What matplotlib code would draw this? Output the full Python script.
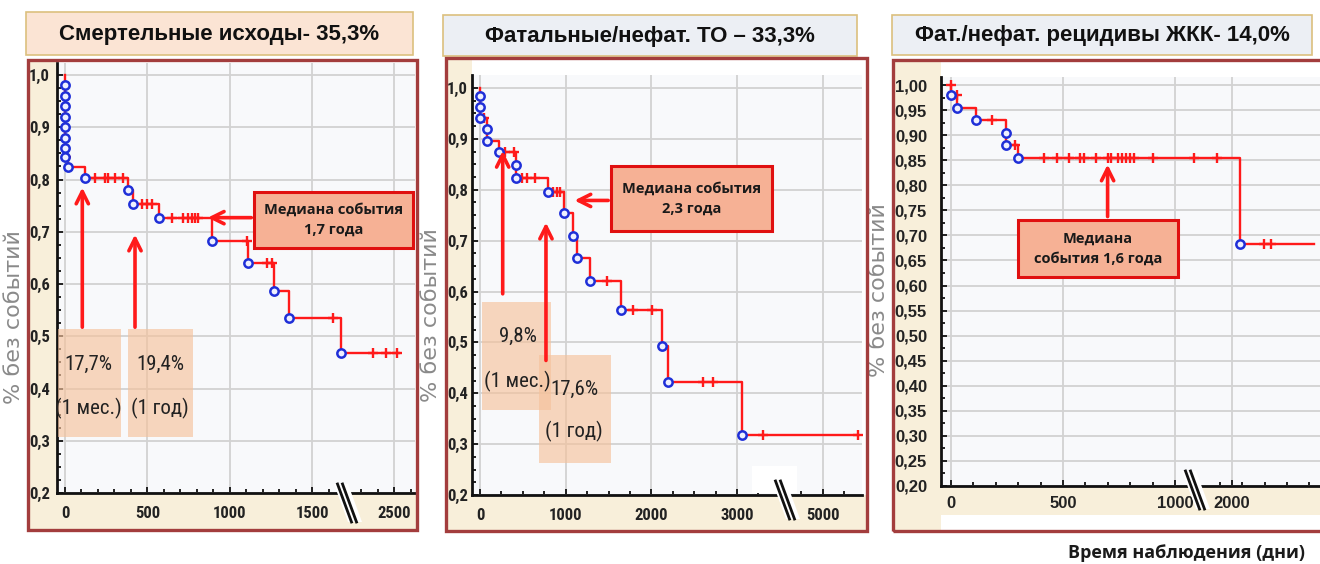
import numpy as np
import matplotlib
matplotlib.use('Agg')
import matplotlib.pyplot as plt
from matplotlib import font_manager as fm
from matplotlib.patches import Rectangle, Polygon
from matplotlib.lines import Line2D


def has_font(name):
    try:
        fm.findfont(fm.FontProperties(family=name), fallback_to_default=False)
        return True
    except ValueError:
        return False


NARROW = 'Liberation Sans'
for cand in ['Liberation Sans Narrow', 'DejaVu Sans Condensed', 'Roboto Condensed', 'Open Sans Condensed']:
    if has_font(cand):
        NARROW = cand
        break
BOLDF = 'Open Sans'

# ---- data (days, survival) ----
titles = ['Смертельные исходы- 35,3%', 'Фатальные/нефат. ТО – 33,3%', 'Фат./нефат. рецидивы ЖКК- 14,0%']
ylabel = '% без событий'
xlabel = 'Время наблюдения (дни)'

# panel 1: deaths
ev_t1 = [0, 0, 0, 0, 0, 0, 0, 0, 16, 121, 385, 415, 573, 895, 1113, 1269, 1358, 1674]
ev_s1 = [0.98, 0.96, 0.94, 0.92, 0.90, 0.88, 0.86, 0.844, 0.823, 0.803, 0.779, 0.753,
         0.726, 0.683, 0.640, 0.586, 0.535, 0.467]
cen_t1 = [8, 182, 243, 263, 304, 354, 466, 496, 526, 648, 719, 749, 769, 790, 810,
          1103, 1225, 1255, 1630, 2373, 2449, 2514]
end_t1 = 2525
xticks1 = [0, 500, 1000, 1500, 2500]
yticks1 = [0.2, 0.3, 0.4, 0.5, 0.6, 0.7, 0.8, 0.9, 1.0]

# panel 2: fatal / non-fatal thrombotic events
ev_t2 = [0, 0, 0, 78, 78, 226, 416, 416, 790, 981, 1089, 1128, 1284, 1650, 2121, 2191, 3054]
ev_s2 = [0.984, 0.962, 0.941, 0.919, 0.896, 0.875, 0.849, 0.824, 0.795, 0.754, 0.709,
         0.666, 0.620, 0.564, 0.493, 0.423, 0.317]
cen_t2 = [50, 292, 397, 486, 545, 642, 856, 895, 934, 1479, 1790, 2004, 2607, 2724, 3307, 5416]
end_t2 = 5416
xticks2 = [0, 1000, 2000, 3000, 5000]
yticks2 = [0.2, 0.3, 0.4, 0.5, 0.6, 0.7, 0.8, 0.9, 1.0]

# panel 3: GI bleeding recurrences
ev_t3 = [0, 28, 110, 244, 244, 298, 2037]
ev_s3 = [0.980, 0.955, 0.930, 0.905, 0.880, 0.854, 0.683]
cen_t3 = [0, 28, 185, 286, 417, 475, 527, 577, 592, 647, 702, 713, 747, 762, 780, 799,
          817, 900, 1085, 1932, 2141, 2174]
end_t3 = 2364
xticks3 = [0, 500, 1000, 2000]
yticks3 = list(np.round(np.arange(0.20, 1.001, 0.05), 2))

# axis breaks: days beyond brk are shifted left by shift
brk1, shift1 = 2200, 500
brk2, shift2 = 4000, 1000
brk3, shift3 = 1500, 746

W, H = 1320, 564
fig = plt.figure(figsize=(W / 100, H / 100), dpi=100)
fig.patch.set_facecolor('white')


def fx(px):
    return px / W


def fy(py):
    return 1 - py / H


def frect(x0, y0, x1, y1, **kw):
    r = Rectangle((fx(x0), fy(y1)), fx(x1) - fx(x0), fy(y0) - fy(y1),
                  transform=fig.transFigure, **kw)
    fig.add_artist(r)
    return r


def make_ax(l, r, t, b):
    return fig.add_axes([fx(l), fy(b), fx(r) - fx(l), fy(t) - fy(b)])


RED = '#ff1a1a'
BLUE = '#1f2fd8'
BEIGE = '#f8efda'
FRAME = '#a33d3d'


def km(ax, ev_t, ev_s, cen_t, t_end, brk, shift):
    pos = lambda t: np.where(np.asarray(t) > brk, np.asarray(t) - shift, np.asarray(t))
    ev_t = np.asarray(ev_t, float)
    ev_s = np.asarray(ev_s, float)
    xs = np.r_[0, ev_t, t_end]
    ys = np.r_[1.0, ev_s, ev_s[-1]]
    ax.plot(pos(xs), ys, drawstyle='steps-post', color=RED, lw=1.7, zorder=3)
    idx = np.searchsorted(ev_t, cen_t, side='left')
    cs = np.where(idx == 0, 1.0, ev_s[np.maximum(idx - 1, 0)])
    ax.plot(pos(cen_t), cs, '+', color=RED, ms=7, mew=1.7, zorder=4)
    ax.plot(pos(ev_t), ev_s, 'o', color=BLUE, mfc='#eef0ff', ms=6, mew=1.8, zorder=5)
    return pos


def style(ax, xlim, ylim, xt, pos, yt, ylab_fmt, xminor, yminor, font, pad_y, pad_x):
    ax.set_facecolor('#f8f9fb')
    ax.set_xlim(*xlim)
    ax.set_ylim(*ylim)
    ax.set_xticks(pos(xt))
    ax.set_xticklabels([str(v) for v in xt])
    ax.set_yticks(yt)
    ax.set_yticklabels([ylab_fmt.format(v).replace('.', ',') for v in yt])
    ax.set_xticks(xminor, minor=True)
    ax.set_yticks(yminor, minor=True)
    for s in ['top', 'right']:
        ax.spines[s].set_visible(False)
    for s in ['left', 'bottom']:
        ax.spines[s].set_linewidth(2)
        ax.spines[s].set_color('#111111')
    ax.tick_params(which='both', direction='in', color='#111111', width=1.3)
    ax.tick_params(which='major', length=4)
    ax.tick_params(which='minor', length=3)
    ax.tick_params(axis='y', pad=pad_y)
    ax.tick_params(axis='x', pad=pad_x)
    for lab in ax.get_xticklabels() + ax.get_yticklabels():
        lab.set_fontfamily(font)
        lab.set_fontweight('bold')
        lab.set_fontsize(12)
        lab.set_color('#222222')
    ax.grid(True, which='major', color='#d2d2d2', lw=1.3)
    ax.set_axisbelow(True)


def pct_box(ax, x0, x1, y0, y1):
    ax.add_patch(Rectangle((x0, y0), x1 - x0, y1 - y0, facecolor='#f5c29c', alpha=0.65,
                           edgecolor='none', zorder=6, clip_on=False))


def pct_text(ax, x, y, s):
    ax.text(x, y, s, ha='center', va='center', fontsize=15 if NARROW != 'Liberation Sans' else 12.5,
            fontfamily=NARROW, color='#222222', zorder=7)


def up_arrow(ax, x, y0, y1):
    ax.annotate('', xy=(x, y1), xytext=(x, y0), zorder=8,
                arrowprops=dict(arrowstyle='->', color=RED, lw=2.6, mutation_scale=22))


def med_box(ax, x0, x1, y0, y1, txt):
    ax.add_patch(Rectangle((x0, y0), x1 - x0, y1 - y0, facecolor='#f6b195',
                           edgecolor='#e01010', lw=2.2, zorder=8, clip_on=False))
    ax.text((x0 + x1) / 2, (y0 + y1) / 2, txt, ha='center', va='center', fontsize=10.5,
            fontfamily=BOLDF, fontweight='bold', color='#1a1a1a', linespacing=1.5, zorder=9)


# ---- frames and titles ----
# frame: (x0, y0, x1, y1, axes-left, axes-bottom, beige-bottom)
frames = [(28, 60, 417, 530, 57, 493, 530), (446, 58, 867, 531, 472, 495, 531),
          (893, 60, 1330, 531, 941, 486, 515)]
for (x0, y0, x1, y1, al, ab, bb) in frames:
    frect(x0, y0, x1, y1, facecolor='white', edgecolor='none', zorder=-2)
    frect(x0, y0, al, y1, facecolor=BEIGE, edgecolor='none', zorder=-1)
    frect(x0, ab, x1, bb, facecolor=BEIGE, edgecolor='none', zorder=-1)
    frect(x0, y0, x1, y1, facecolor='none', edgecolor=FRAME, lw=2.4, zorder=10)

tboxes = [(26, 12, 413, 55, '#fbe4d4'), (443, 15, 857, 56, '#eceff4'), (892, 15, 1312, 55, '#eceff4')]
for (x0, y0, x1, y1, c), t in zip(tboxes, titles):
    frect(x0, y0, x1, y1, facecolor=c, edgecolor='#dcc07e', lw=1.2, zorder=1)
    fig.text(fx((x0 + x1) / 2), fy((y0 + y1) / 2 + 1), t, ha='center', va='center',
             fontsize=16, fontweight='bold', fontfamily='Liberation Sans', color='#111111', zorder=2)

for xc, yc in [(14, 317), (431, 315), (879, 290)]:
    fig.text(fx(xc), fy(yc), ylabel, rotation=90, ha='center', va='center',
             fontsize=16, color='#8a8a8a', fontfamily='DejaVu Sans')

fig.text(fx(1186), fy(553), xlabel, ha='center', va='center', fontsize=13,
         fontweight='bold', fontfamily=BOLDF, color='#1a1a1a')

# ---- panel 1 ----
ax1 = make_ax(57, 415, 63, 493)
p1 = km(ax1, ev_t1, ev_s1, cen_t1, end_t1, brk1, shift1)
style(ax1, (-48.6, 2125), (0.2, 1.023), xticks1, p1, yticks1, '{:.1f}',
      np.arange(0, 2101, 100), np.arange(0.2, 1.01, 0.025), NARROW, 5, 9)
pct_box(ax1, -40, 338, 0.308, 0.513)
pct_box(ax1, 385, 779, 0.308, 0.513)
pct_text(ax1, 142, 0.447, '17,7%')
pct_text(ax1, 142, 0.361, '(1 мес.)')
pct_text(ax1, 577, 0.447, '19,4%')
pct_text(ax1, 577, 0.361, '(1 год)')
up_arrow(ax1, 105, 0.512, 0.790)
up_arrow(ax1, 425, 0.512, 0.700)
med_box(ax1, 1148, 2115, 0.669, 0.777, 'Медиана события\n1,7 года')
ax1.annotate('', xy=(850, 0.727), xytext=(1148, 0.727), zorder=8,
             arrowprops=dict(arrowstyle='->', color=RED, lw=2.6, mutation_scale=22))

# ---- panel 2 ----
ax2 = make_ax(472, 862, 75, 495)
p2 = km(ax2, ev_t2, ev_s2, cen_t2, end_t2, brk2, shift2)
style(ax2, (-93.4, 4459), (0.2, 1.0256), xticks2, p2, yticks2, '{:.1f}',
      np.arange(0, 4451, 250), np.arange(0.2, 1.01, 0.025), NARROW, 3, 9)
pct_box(ax2, 19, 829, 0.367, 0.580)
pct_box(ax2, 693, 1525, 0.262, 0.475)
pct_text(ax2, 440, 0.511, '9,8%')
pct_text(ax2, 440, 0.423, '(1 мес.)')
pct_text(ax2, 1097, 0.407, '17,6%')
pct_text(ax2, 1097, 0.325, '(1 год)')
up_arrow(ax2, 265, 0.590, 0.882)
up_arrow(ax2, 770, 0.459, 0.741)
med_box(ax2, 1529, 3412, 0.718, 0.847, 'Медиана события\n2,3 года')
ax2.annotate('', xy=(1070, 0.779), xytext=(1529, 0.779), zorder=8,
             arrowprops=dict(arrowstyle='->', color=RED, lw=2.6, mutation_scale=22))

# ---- panel 3 ----
ax3 = make_ax(941, 1320, 77, 486)
p3 = km(ax3, ev_t3, ev_s3, cen_t3, end_t3, brk3, shift3)
style(ax3, (-44.6, 1647), (0.2, 1.016), xticks3, p3, yticks3, '{:.2f}',
      np.arange(0, 1651, 100), np.arange(0.2, 1.01, 0.025), 'Liberation Sans', 10, 7)
up_arrow(ax3, 699, 0.732, 0.847)
med_box(ax3, 301, 1012, 0.617, 0.730, 'Медиана\nсобытия 1,6 года')

# ---- axis break marks ----
frect(752, 466, 797, 493, facecolor='white', edgecolor='none', zorder=3)
for xc, yc in [(347, 503), (785, 500), (1195, 490)]:
    dx, dy = 7, 19
    poly = Polygon([(fx(xc - dx - 6), fy(yc - dy)), (fx(xc - dx + 8), fy(yc - dy)),
                    (fx(xc + dx + 8), fy(yc + dy)), (fx(xc + dx - 6), fy(yc + dy))],
                   closed=True, transform=fig.transFigure, facecolor='white',
                   edgecolor='none', zorder=11)
    fig.add_artist(poly)
    for off in (-2.5, 2.5):
        fig.add_artist(Line2D([fx(xc - dx + off), fx(xc + dx + off)], [fy(yc - dy), fy(yc + dy)],
                              transform=fig.transFigure, color='#111111', lw=2, zorder=12))

fig.savefig('out.png', dpi=100)
